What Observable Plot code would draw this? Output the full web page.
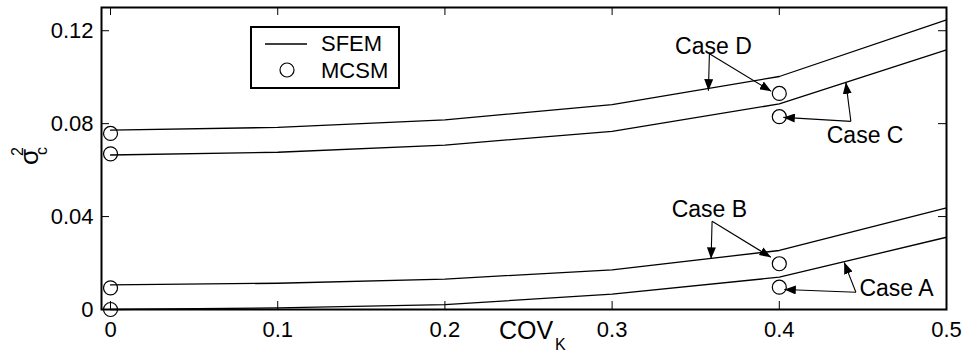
<!DOCTYPE html>
<html>
<head>
<meta charset="utf-8">
<script src="https://cdn.jsdelivr.net/npm/d3@7"></script>
<script src="https://cdn.jsdelivr.net/npm/@observablehq/plot@0.6"></script>
<style>
  html, body { margin: 0; padding: 0; background: #fff; }
  svg { display: block; background: #fff; }
</style>
</head>
<body>
<div id="chart"></div>
<script>
// ---- data ----
const covK = [0, 0.1, 0.2, 0.3, 0.4, 0.5];
const sfemCaseA = [0, 0.0007, 0.0021, 0.0066, 0.0139, 0.0311];
const sfemCaseB = [0.0106, 0.0113, 0.0131, 0.0171, 0.0254, 0.0437];
const sfemCaseC = [0.0665, 0.0677, 0.0708, 0.0767, 0.0885, 0.1118];
const sfemCaseD = [0.0772, 0.0784, 0.0816, 0.0882, 0.1003, 0.1247];

const mcsmCovK = [0, 0.4];
const mcsmCaseA = [0, 0.0096];
const mcsmCaseB = [0.0093, 0.0197];
const mcsmCaseC = [0.0670, 0.0830];
const mcsmCaseD = [0.0758, 0.0930];

const xTicks = [0, 0.1, 0.2, 0.3, 0.4, 0.5];
const yTicks = [0, 0.04, 0.08, 0.12];

// annotation labels and arrows (data coordinates)
const caseLabels = ["Case A", "Case B", "Case C", "Case D"];
const labelX = [0.4701, 0.3582, 0.4513, 0.3606];
const labelY = [0.0092, 0.0432, 0.0750, 0.1133];
const arrowFromX = [0.4458, 0.3598, 0.4428, 0.3582];
const arrowFromY = [0.0074, 0.0380, 0.0810, 0.1101];
const arrowToLineX = [0.4388, 0.3592, 0.4398, 0.3576];
const arrowToLineY = [0.0203, 0.0218, 0.0978, 0.0942];
const arrowToPointX = [0.4030, 0.3950, 0.4024, 0.3952];
const arrowToPointY = [0.0086, 0.0225, 0.0827, 0.0939];

// ---- build tables ----
const sfem = [sfemCaseA, sfemCaseB, sfemCaseC, sfemCaseD];
const mcsm = [mcsmCaseA, mcsmCaseB, mcsmCaseC, mcsmCaseD];
const lineData = sfem.flatMap((vals, i) => vals.map((v, j) => ({c: caseLabels[i], x: covK[j], y: v})));
const pointData = mcsm.flatMap((vals, i) => vals.map((v, j) => ({c: caseLabels[i], x: mcsmCovK[j], y: v})));
const labels = caseLabels.map((t, i) => ({t, x: labelX[i], y: labelY[i]}));
const arrows = caseLabels.flatMap((t, i) => [
  {x1: arrowFromX[i], y1: arrowFromY[i], x2: arrowToLineX[i], y2: arrowToLineY[i]},
  {x1: arrowFromX[i], y1: arrowFromY[i], x2: arrowToPointX[i], y2: arrowToPointY[i]}
]);

const W = 964, H = 352;
const mL = 101, mR = 18, mT = 7, mB = 43;
const innerW = W - mL - mR, innerH = H - mT - mB;
const tickLen = 8;
const fmt = d => String(d);

const chart = Plot.plot({
  width: W, height: H,
  marginLeft: mL, marginRight: mR, marginTop: mT, marginBottom: mB,
  style: {fontFamily: "'Liberation Sans', Arial, sans-serif", fontSize: "22px", color: "#000", background: "#fff"},
  x: {domain: [-0.0054, 0.5]},
  y: {domain: [0, 0.13]},
  marks: [
    Plot.axisX({ticks: xTicks, tickSize: 0, tickPadding: 12, label: null, fontSize: 22, tickFormat: fmt}),
    Plot.axisY({ticks: yTicks, tickSize: 0, tickPadding: 8, label: null, fontSize: 22, tickFormat: fmt}),
    // inward ticks on all four sides
    Plot.tickX(xTicks, {x: d => d, insetTop: innerH - tickLen, stroke: "#000", strokeWidth: 1}),
    Plot.tickX(xTicks, {x: d => d, insetBottom: innerH - tickLen, stroke: "#000", strokeWidth: 1}),
    Plot.tickY(yTicks, {y: d => d, insetRight: innerW - tickLen, stroke: "#000", strokeWidth: 1}),
    Plot.tickY(yTicks, {y: d => d, insetLeft: innerW - tickLen, stroke: "#000", strokeWidth: 1}),
    Plot.line(lineData, {x: "x", y: "y", z: "c", stroke: "#000", strokeWidth: 1.3}),
    Plot.dot(pointData, {x: "x", y: "y", r: 7, stroke: "#000", strokeWidth: 1.2, fill: "none"}),
    Plot.link(arrows, {x1: "x1", y1: "y1", x2: "x2", y2: "y2", stroke: "#000", strokeWidth: 1.1}),
    Plot.text(labels, {x: "x", y: "y", text: "t", fontSize: 23, fill: "#000", textAnchor: "middle", lineAnchor: "middle"}),
    Plot.frame({stroke: "#000", strokeWidth: 2})
  ]
});

document.getElementById("chart").appendChild(chart);

// ---- arrowheads (filled triangles) ----
const svg = d3.select(chart);
const defs = svg.insert("defs", ":first-child");
defs.append("marker")
  .attr("id", "tri")
  .attr("markerUnits", "userSpaceOnUse")
  .attr("markerWidth", 12).attr("markerHeight", 9)
  .attr("refX", 11.5).attr("refY", 4.5)
  .attr("orient", "auto")
  .append("path").attr("d", "M0,0 L11.5,4.5 L0,9 Z").attr("fill", "#000");
svg.selectAll('g[aria-label="link"] path').attr("marker-end", "url(#tri)");

// ---- axis titles ----
const ff = "'Liberation Sans', Arial, sans-serif";
const xt = svg.append("text").attr("font-family", ff).attr("fill", "#000").attr("text-anchor", "start");
xt.append("tspan").attr("x", 499).attr("y", 339).attr("font-size", 25).text("COV");
xt.append("tspan").attr("x", 555).attr("y", 350).attr("font-size", 16).text("K");

svg.append("text").attr("font-family", ff).attr("font-size", 26).attr("fill", "#000").attr("text-anchor", "start")
  .attr("transform", "translate(38,165) rotate(-90)").text("σ");
svg.append("text").attr("font-family", ff).attr("font-size", 16).attr("fill", "#000").attr("text-anchor", "start")
  .attr("transform", "translate(23,156) rotate(-90)").text("2");
svg.append("text").attr("font-family", ff).attr("font-size", 16).attr("fill", "#000").attr("text-anchor", "start")
  .attr("transform", "translate(47,155) rotate(-90)").text("c");

// ---- legend ----
const lg = svg.append("g").attr("text-anchor", "start");
lg.append("rect").attr("x", 251).attr("y", 27).attr("width", 148).attr("height", 61)
  .attr("fill", "#fff").attr("stroke", "#000").attr("stroke-width", 2);
lg.append("line").attr("x1", 265).attr("x2", 307).attr("y1", 44).attr("y2", 44)
  .attr("stroke", "#000").attr("stroke-width", 1.3);
lg.append("circle").attr("cx", 287).attr("cy", 70).attr("r", 7)
  .attr("fill", "none").attr("stroke", "#000").attr("stroke-width", 1.2);
lg.append("text").attr("x", 321).attr("y", 51).attr("font-family", ff).attr("font-size", 22).text("SFEM");
lg.append("text").attr("x", 321).attr("y", 78).attr("font-family", ff).attr("font-size", 22).text("MCSM");
</script>
</body>
</html>
